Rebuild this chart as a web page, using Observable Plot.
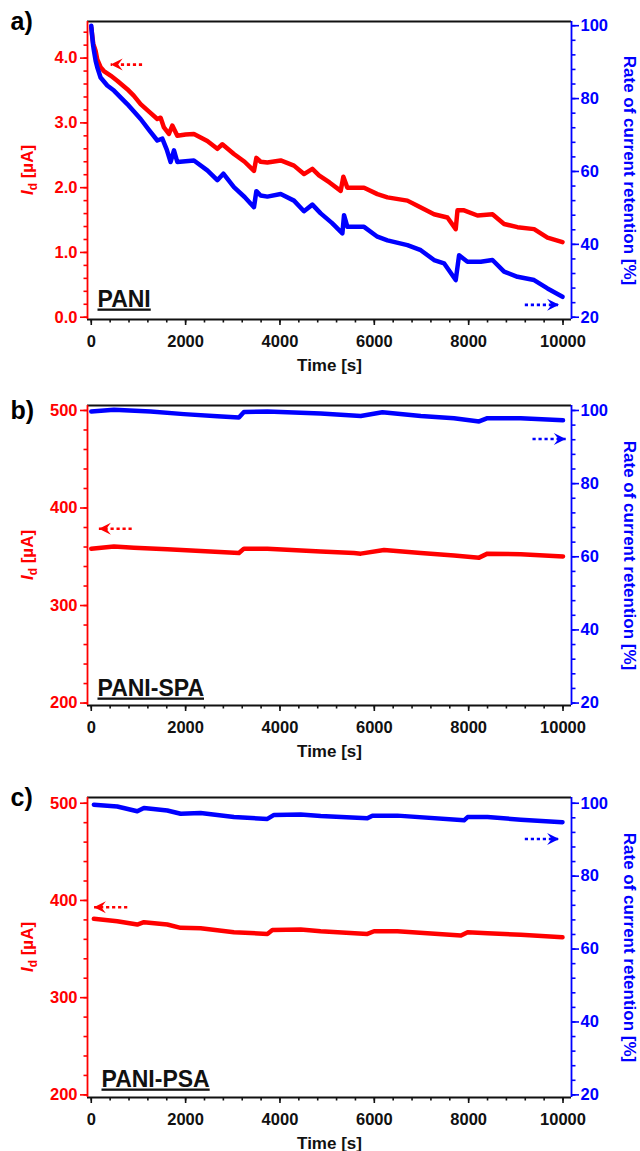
<!DOCTYPE html>
<html><head><meta charset="utf-8">
<script src="https://cdn.jsdelivr.net/npm/d3@7"></script>
<script src="https://cdn.jsdelivr.net/npm/@observablehq/plot@0.6"></script>
<style>body{margin:0;background:#fff;} #chart{width:640px;height:1151px;overflow:hidden;}</style>
</head><body><div id="chart"></div>
<script>
// ---------- data ----------
const timeTicks = [0, 2000, 4000, 6000, 8000, 10000];
const timeMinor = d3.range(0, 10001, 400);
const panelLetters = ["a)", "b)", "c)"];
const sampleNames = ["PANI", "PANI-SPA", "PANI-PSA"];
const redAxisTitle = ["I", "d", " [µA]"];
const blueAxisTitle = "Rate of current retention [%]";
const timeTitle = "Time [s]";

const aRedTicks = [0, 1, 2, 3, 4];
const aRedMinor = d3.range(0, 4.41, 0.2);
const bcRedTicks = [200, 300, 400, 500];
const bcRedMinor = d3.range(200, 501, 20);
const blueTicks = [20, 40, 60, 80, 100];
const blueMinor = d3.range(20, 101, 4);

// Panel a: PANI
const aRedTime = [0, 20, 42, 70, 92, 127, 197, 267, 409, 550, 763, 900, 1046, 1230, 1400, 1470, 1540, 1646, 1718, 1824, 2000, 2176, 2460, 2672, 2778, 3024, 3250, 3449, 3500, 3590, 3733, 4015, 4297, 4509, 4687, 4827, 5050, 5287, 5344, 5429, 5782, 6066, 6278, 6702, 6914, 7266, 7550, 7726, 7763, 7902, 8187, 8505, 8751, 9035, 9387, 9671, 9989];
const aRed = [4.47, 4.35, 4.22, 4.16, 4.11, 3.98, 3.86, 3.80, 3.73, 3.65, 3.52, 3.42, 3.29, 3.17, 3.06, 3.08, 2.93, 2.83, 2.96, 2.80, 2.82, 2.83, 2.72, 2.60, 2.67, 2.52, 2.40, 2.26, 2.46, 2.40, 2.39, 2.42, 2.34, 2.21, 2.29, 2.19, 2.08, 1.95, 2.17, 2.00, 2.00, 1.90, 1.85, 1.80, 1.72, 1.59, 1.54, 1.36, 1.65, 1.65, 1.57, 1.59, 1.44, 1.39, 1.36, 1.23, 1.16];
const aBlueTime = [0, 20, 40, 57, 92, 127, 197, 339, 480, 763, 900, 1046, 1230, 1400, 1506, 1600, 1682, 1753, 1824, 2176, 2460, 2672, 2800, 3024, 3250, 3449, 3500, 3590, 3733, 4015, 4297, 4509, 4687, 4863, 5100, 5323, 5358, 5429, 5782, 6066, 6278, 6702, 6985, 7266, 7478, 7726, 7797, 7974, 8257, 8505, 8751, 9035, 9387, 9671, 9989];
const aBlue = [100, 97, 94.5, 93.1, 90.4, 88.6, 85.8, 83.6, 82.2, 78.5, 76.5, 74.4, 71.3, 68.5, 69.0, 66.0, 62.6, 65.8, 62.6, 63.0, 60.3, 57.6, 59.4, 55.7, 53.0, 50.2, 54.6, 53.4, 53.1, 53.8, 52.0, 49.1, 50.9, 48.5, 45.9, 43.0, 48.0, 44.8, 44.8, 42.1, 41.1, 39.8, 38.4, 35.7, 34.8, 30.2, 37.0, 35.2, 35.2, 35.7, 32.5, 31.1, 30.2, 27.9, 25.6];

// Panel b: PANI-SPA
const bRedTime = [0, 480, 903, 1612, 2318, 3130, 3236, 3733, 4863, 5570, 5712, 6206, 6985, 7690, 8221, 8398, 9105, 10000];
const bRed = [358.3, 360.5, 359.3, 357.6, 355.9, 353.8, 358.3, 358.3, 355.5, 353.8, 353.2, 357.0, 353.8, 351.4, 349.1, 353.2, 352.5, 350.4];
const bBlueTime = [0, 480, 1257, 1964, 2671, 3130, 3236, 3733, 4863, 5712, 6171, 6985, 7690, 8221, 8398, 9105, 10000];
const bBlue = [99.7, 100.2, 99.7, 99.0, 98.4, 98.1, 99.6, 99.7, 99.2, 98.5, 99.5, 98.5, 97.9, 97.0, 97.9, 97.9, 97.3];

// Panel c: PANI-PSA
const cRedTime = [55, 550, 975, 1116, 1612, 1894, 2318, 3024, 3733, 3839, 4439, 4863, 5853, 5994, 6490, 7837, 7978, 8398, 9105, 9989];
const cRed = [381.1, 378.6, 375.2, 377.6, 375.2, 371.8, 371.4, 367.3, 365.6, 369.7, 370.1, 368.3, 365.6, 368.3, 368.3, 363.9, 367.3, 366.3, 364.6, 362.1];
const cBlueTime = [55, 550, 975, 1116, 1612, 1894, 2318, 3024, 3733, 3874, 4439, 4863, 5853, 5959, 6490, 7902, 7978, 8398, 9105, 9989];
const cBlue = [99.6, 99.1, 97.8, 98.7, 98.0, 97.1, 97.3, 96.2, 95.7, 96.8, 96.9, 96.5, 95.9, 96.6, 96.6, 95.3, 96.2, 96.2, 95.5, 94.8];

// Arrow annotations: [tail time, tip time, value]
const aRedArrow = [1077, 411, 3.90];
const aBlueArrow = [9190, 9917, 23.4];
const bRedArrow = [857, 161, 378.8];
const bBlueArrow = [9353, 10060, 92.2];
const cRedArrow = [763, 55, 393];
const cBlueArrow = [9190, 9917, 90.2];

// ---------- drawing ----------
const RED = "#ff0000", BLUE = "#0000ff", INK = "#111111";
const FONT = "'Liberation Sans', Arial, Helvetica, sans-serif";
const xDomain = [-80, 10180];
const arrowHead = {
  draw(ctx, size) {
    const r = Math.sqrt(size / Math.PI);
    ctx.moveTo(0, 0); ctx.lineTo(-2 * r, -r); ctx.lineTo(-1.25 * r, 0); ctx.lineTo(-2 * r, r); ctx.closePath();
  }
};
const zip = (ts, vs) => ts.map((t, i) => ({t, v: vs[i]}));

function arrowMarks(arr, color, toY) {
  const d = [{tail: arr[0], tip: arr[1], y: toY(arr[2])}];
  return [
    Plot.link(d, {x1: "tail", x2: "tip", y1: "y", y2: "y", stroke: color, strokeWidth: 2.6, strokeDasharray: "3.2,2.8"}),
    Plot.dot(d, {x: "tip", y: "y", symbol: arrowHead, r: 6, fill: color, stroke: "none", rotate: arr[1] < arr[0] ? 180 : 0})
  ];
}

function panel(cfg) {
  const {height, marginBottom, yDomain, redTicks, redMinor, redFmt, toRed, red, blue, redArrow, blueArrow, idx, letterDy, nameDx, nameDy} = cfg;
  const marginTop = 21;
  const frameH = height - marginTop - marginBottom;
  const common = {strokeWidth: 1.6};
  const svg = Plot.plot({
    width: 640, height, marginTop, marginBottom, marginLeft: 87, marginRight: 69,
    x: {domain: xDomain},
    y: {domain: yDomain},
    style: {fontFamily: FONT, fontWeight: "bold", fontSize: "16.5px", background: "white", overflow: "visible"},
    marks: [
      Plot.ruleY([yDomain[1]], {stroke: INK, strokeWidth: 1.8}),
      Plot.ruleY([yDomain[0]], {stroke: INK, strokeWidth: 1.8}),
      Plot.ruleX([xDomain[0]], {stroke: RED, strokeWidth: 1.8}),
      Plot.ruleX([xDomain[1]], {stroke: BLUE, strokeWidth: 1.8}),
      Plot.axisX(timeMinor, {...common, tickSize: 3.5, color: INK, fill: "none", label: null}),
      Plot.axisX(timeTicks, {...common, tickSize: 6, tickPadding: 10, tickFormat: d => `${d}`, color: INK, label: null, fontSize: 16.5, fontWeight: "bold"}),
      Plot.axisY(redMinor, {...common, anchor: "left", tickSize: 3.5, color: RED, fill: "none", label: null}),
      Plot.axisY(redTicks, {...common, anchor: "left", tickSize: 7, tickPadding: 3, tickFormat: redFmt, color: RED, label: null, fontSize: 16.5, fontWeight: "bold"}),
      Plot.axisY(blueMinor, {...common, anchor: "right", y: toRed, tickSize: 3.5, color: BLUE, fill: "none", label: null}),
      Plot.axisY(blueTicks, {...common, anchor: "right", y: toRed, tickSize: 7, tickPadding: 2, tickFormat: d => `${d}`, color: BLUE, label: null, fontSize: 16.5, fontWeight: "bold"}),
      Plot.line(red, {x: "t", y: "v", stroke: RED, strokeWidth: 4.5, strokeLinejoin: "round", strokeLinecap: "round"}),
      Plot.line(blue, {x: "t", y: d => toRed(d.v), stroke: BLUE, strokeWidth: 4.5, strokeLinejoin: "round", strokeLinecap: "round"}),
      ...arrowMarks(redArrow, RED, v => v),
      ...arrowMarks(blueArrow, BLUE, toRed),
      Plot.text([timeTitle], {frameAnchor: "bottom", dy: 51, lineAnchor: "bottom", textAnchor: "middle", fill: INK, fontSize: 17, fontWeight: "bold"}),
      Plot.text([blueAxisTitle], {frameAnchor: "right", dx: 58, rotate: 90, textAnchor: "middle", lineAnchor: "middle", fill: BLUE, fontSize: 17, fontWeight: "bold"}),
      Plot.text([panelLetters[idx]], {frameAnchor: "top-left", dx: -77, dy: letterDy, textAnchor: "start", lineAnchor: "bottom", fill: "#000", fontSize: 25, fontWeight: "bold"}),
      Plot.text([sampleNames[idx]], {frameAnchor: "bottom-left", dx: nameDx, dy: nameDy, textAnchor: "start", lineAnchor: "bottom", fill: INK, fontSize: 23, fontWeight: "bold"})
    ]
  });
  const s = d3.select(svg);
  s.selectAll("text").filter(function () { return this.textContent === sampleNames[idx]; })
    .style("text-decoration", "underline").attr("text-decoration", "underline");
  const t = s.append("text")
    .attr("transform", `translate(33,${marginTop + frameH / 2}) rotate(-90)`)
    .attr("text-anchor", "middle").attr("fill", RED)
    .style("font-size", "17px").style("font-weight", "bold").style("font-family", FONT);
  t.append("tspan").style("font-style", "italic").text(redAxisTitle[0]);
  t.append("tspan").attr("dy", 4).style("font-size", "12px").text(redAxisTitle[1]);
  t.append("tspan").attr("dy", -4).text(redAxisTitle[2]);
  return svg;
}

const toRedA = v => (v - 20) / 80 * 4.5;
const toRedBC = v => 200 + (v - 20) / 80 * 300;
const root = document.getElementById("chart");

root.append(panel({
  idx: 0, height: 384, marginBottom: 65, yDomain: [-0.035, 4.565],
  redTicks: aRedTicks, redMinor: aRedMinor, redFmt: d => d.toFixed(1), toRed: toRedA,
  red: zip(aRedTime, aRed), blue: zip(aBlueTime, aBlue), redArrow: aRedArrow, blueArrow: aBlueArrow,
  letterDy: 8, nameDx: 10, nameDy: -13
}));
root.append(panel({
  idx: 1, height: 392, marginBottom: 71, yDomain: [197.5, 505.1],
  redTicks: bcRedTicks, redMinor: bcRedMinor, redFmt: d => `${d}`, toRed: toRedBC,
  red: zip(bRedTime, bRed), blue: zip(bBlueTime, bBlue), redArrow: bRedArrow, blueArrow: bBlueArrow,
  letterDy: 13, nameDx: 10, nameDy: -10
}));
root.append(panel({
  idx: 2, height: 375, marginBottom: 54, yDomain: [197.3, 505.9],
  redTicks: bcRedTicks, redMinor: bcRedMinor, redFmt: d => `${d}`, toRed: toRedBC,
  red: zip(cRedTime, cRed), blue: zip(cBlueTime, cBlue), redArrow: cRedArrow, blueArrow: cBlueArrow,
  letterDy: 8, nameDx: 14, nameDy: -11
}));
</script>
</body></html>
